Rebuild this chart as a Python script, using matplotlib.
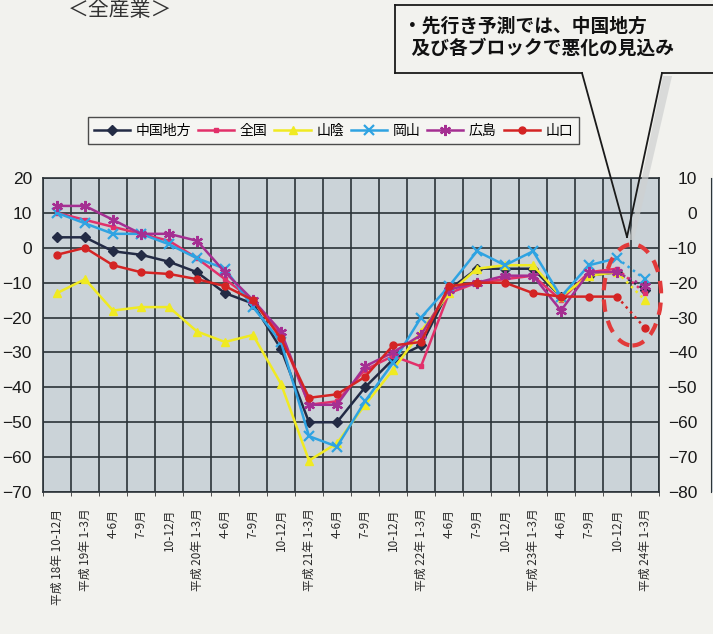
import matplotlib
matplotlib.use("Agg")
import matplotlib.pyplot as plt
import numpy as np
from matplotlib.patches import Ellipse, Polygon
from matplotlib.lines import Line2D

CJK = ["Noto Sans CJK JP", "DejaVu Sans"]
NUM = ["Liberation Sans Narrow", "Liberation Sans", "DejaVu Sans"]
plt.rcParams['font.family'] = CJK

# ---------------- data ----------------
categories = ["平成 18年 10-12月", "平成 19年 1-3月", "4-6月", "7-9月", "10-12月",
              "平成 20年 1-3月", "4-6月", "7-9月", "10-12月",
              "平成 21年 1-3月", "4-6月", "7-9月", "10-12月",
              "平成 22年 1-3月", "4-6月", "7-9月", "10-12月",
              "平成 23年 1-3月", "4-6月", "7-9月", "10-12月",
              "平成 24年 1-3月"]

series_names = ["中国地方", "全国", "山陰", "岡山", "広島", "山口"]

chugoku   = [3, 3, -1, -2, -4, -7, -13, -16, -29, -50, -50, -40, -32, -28, -12, -6, -6, -6, -14, -8, -7, -12]
zenkoku   = [10, 8, 6, 4, 2, -3, -9, -15, -25, -45, -44, -35, -31, -34, -13, -10, -9, -8, -15, -7, -6, -13]
sanin     = [-13, -9, -18, -17, -17, -24, -27, -25, -39, -61, -56, -45, -35, -24, -13, -6, -5, -5, -14, -8, -7, -15]
okayama   = [10, 7, 4, 4, 1, -3, -6, -17, -27, -54, -57, -44, -33, -20, -11, -1, -5, -1, -14, -5, -3, -9]
hiroshima = [12, 12, 8, 4, 4, 2, -7, -15, -24, -45, -45, -34, -30, -25, -12, -10, -8, -8, -18, -7, -7, -11]
yamaguchi = [-2, 0, -5, -7, -7.5, -9, -11, -15, -26, -43, -42, -37, -28, -27, -11, -10, -10, -13, -14, -14, -14, -23]

y_ticks = [20, 10, 0, -10, -20, -30, -40, -50, -60, -70]
y_ticks_right = [10, 0, -10, -20, -30, -40, -50, -60, -70, -80]

title_text = "＜全産業＞"
callout_text = "・先行き予測では、中国地方\n  及び各ブロックで悪化の見込み"

# ---------------- styling ----------------
W, H = 713, 634
def fx(px): return px / W
def fy(py): return 1 - py / H

fig = plt.figure(figsize=(W / 100, H / 100), dpi=100)
fig.patch.set_facecolor('#f2f2ee')

ax = fig.add_axes([fx(43), fy(492), fx(659) - fx(43), fy(178) - fy(492)])
ax.set_facecolor('#cbd3d8')

x = np.arange(len(categories))
styles = [
    (chugoku,   '#232b45', 'D', 5, 1.0),
    (zenkoku,   '#e2306a', 's', 3, 1.0),
    (sanin,     '#f0ea22', '^', 6, 1.0),
    (okayama,   '#2fa3e2', 'x', 7, 1.6),
    (hiroshima, '#a52f92', (6, 2, 0), 8, 1.6),
    (yamaguchi, '#d42424', 'o', 5, 1.0),
]

handles = []
for (vals, col, mk, ms, mew), name in zip(styles, series_names):
    vals = np.array(vals, dtype=float)
    h, = ax.plot(x[:21], vals[:21], color=col, lw=1.8, marker=mk, ms=ms,
                 mec=col, mfc=col, mew=mew, zorder=3, label=name)
    ax.plot(x[20:], vals[20:], color=col, lw=1.8, ls=':', marker=mk, ms=ms,
            mec=col, mfc=col, mew=mew, markevery=[1], zorder=3)
    handles.append(h)

ax.set_xlim(-0.5, len(categories) - 0.5)
ax.set_ylim(-70, 20)
ax.set_yticks(y_ticks)
ax.set_yticklabels([str(v).replace('-', '−') for v in y_ticks],
                   fontfamily=NUM, fontsize=12.5, color='#1a1a1a')
ax.tick_params(axis='y', length=0, pad=8)

ax.set_xticks(x)
ax.set_xticklabels(categories, rotation=90, fontsize=8.5, color='#2a2a2a')
ax.set_xticks(np.arange(-0.5, len(categories), 1), minor=True)
ax.tick_params(axis='x', which='major', length=0, pad=12)
ax.tick_params(axis='x', which='minor', length=3, color='#333333')

ax.grid(True, axis='y', which='major', color='#2b3338', lw=1.2)
ax.grid(True, axis='x', which='minor', color='#2b3338', lw=1.2)
ax.grid(False, axis='x', which='major')
ax.set_axisbelow(True)
for s in ax.spines.values():
    s.set_color('#2b3338')
    s.set_linewidth(1.2)

# red dashed forecast ellipse
ell = Ellipse((20.55, -13.5), width=2.05, height=29, angle=0, fill=False,
              edgecolor='#e23a3a', lw=3, ls=(0, (3, 2.2)), zorder=5, clip_on=False)
ax.add_patch(ell)

# legend
leg = fig.legend(handles=handles, labels=series_names, loc='center',
                 bbox_to_anchor=(fx((85 + 582) / 2), fy(130.5)),
                 bbox_transform=fig.transFigure, ncol=6, fontsize=10,
                 handlelength=2.6, handletextpad=0.4, columnspacing=0.5,
                 borderpad=0.45, frameon=True, fancybox=False)
leg.get_frame().set_edgecolor('#222222')
leg.get_frame().set_linewidth(1.0)
leg.get_frame().set_facecolor('#f7f7f4')

# neighbouring chart's axis on right edge
ax2 = fig.add_axes([fx(711), fy(492), 0.05, fy(178) - fy(492)])
ax2.set_ylim(-80, 10)
ax2.set_yticks(y_ticks_right)
ax2.set_yticklabels([str(v).replace('-', '−') for v in y_ticks_right],
                    fontfamily=NUM, fontsize=12.5, color='#1a1a1a')
ax2.tick_params(axis='y', length=0, pad=10)
ax2.set_xticks([])
ax2.set_facecolor('#cbd3d8')
for k, s in ax2.spines.items():
    s.set_visible(k == 'left')
    s.set_color('#2b3338')

# title (near top edge)
fig.text(fx(120), fy(10), title_text, ha='center', va='center', fontsize=15,
         color='#333333')

# callout box with pointer
shadow = Polygon([(fx(663), fy(76)), (fx(672), fy(76)), (fx(634), fy(240)), (fx(629), fy(240))],
                 closed=True, transform=fig.transFigure, facecolor='#cfd1d1',
                 edgecolor='none', alpha=0.7, zorder=1)
fig.add_artist(shadow)
box_lines = [
    [(395, 5), (713, 5)],
    [(395, 5), (395, 73)],
    [(395, 73), (582, 73)],
    [(662, 73), (713, 73)],
    [(582, 73), (627, 237)],
    [(662, 73), (627, 237)],
]
for (a, b) in box_lines:
    fig.add_artist(Line2D([fx(a[0]), fx(b[0])], [fy(a[1]), fy(b[1])],
                          transform=fig.transFigure, color='#1a1a1a', lw=1.3, zorder=6))
fig.text(fx(403), fy(37), callout_text, ha='left', va='center', fontsize=13.5,
         fontweight='bold', color='#111111', linespacing=1.25)

fig.savefig("out.png", dpi=100, facecolor=fig.get_facecolor())
